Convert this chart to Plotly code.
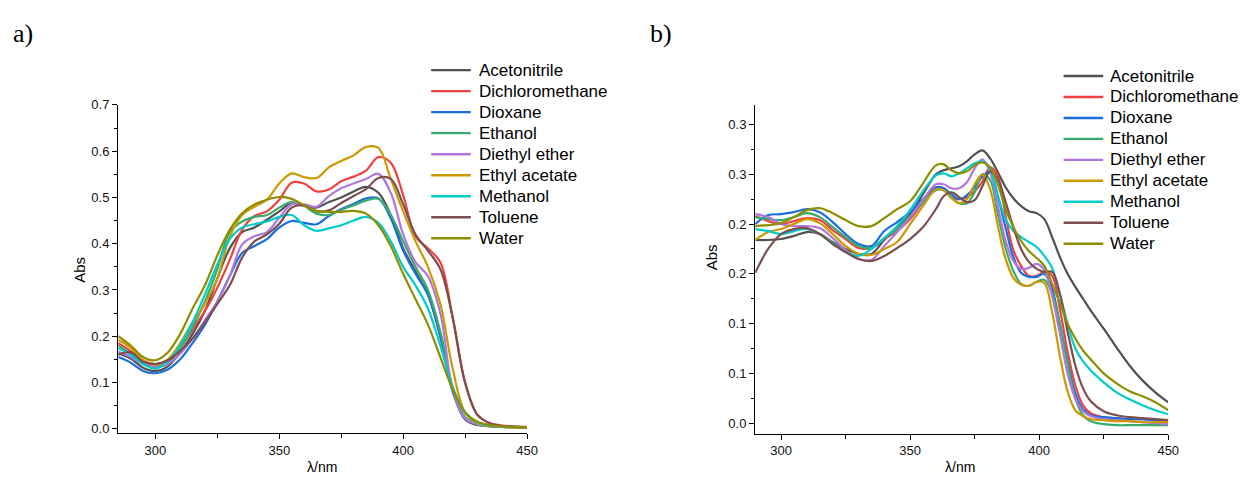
import plotly.graph_objects as go

solvents = ["Acetonitrile", "Dichloromethane", "Dioxane", "Ethanol", "Diethyl ether",
            "Ethyl acetate", "Methanol", "Toluene", "Water"]
colors = ["#515151", "#F14040", "#1A6FDF", "#37AD6B", "#B177DE",
          "#CC9900", "#00CBCC", "#7D4E4E", "#8E8E00"]

# ---------------- panel a ----------------
wl_a = [285, 290, 295, 300, 305, 310, 315, 320, 325, 330, 335, 340, 345, 350, 355, 360, 365,
        370, 375, 380, 385, 390, 395, 400, 405, 410, 415, 420, 425, 430, 435, 440, 445, 450]
a_acetonitrile = [0.163, 0.152, 0.132, 0.125, 0.135, 0.165, 0.205, 0.255, 0.325, 0.39, 0.425, 0.435,
                  0.452, 0.47, 0.488, 0.482, 0.478, 0.49, 0.5, 0.513, 0.523, 0.51, 0.462, 0.39, 0.34,
                  0.29, 0.2, 0.085, 0.02, 0.008, 0.005, 0.004, 0.003, 0.003]
a_dichloromethane = [0.185, 0.168, 0.148, 0.14, 0.148, 0.175, 0.215, 0.255, 0.305, 0.365, 0.43, 0.46,
                     0.47, 0.495, 0.532, 0.53, 0.513, 0.517, 0.535, 0.545, 0.558, 0.587, 0.575, 0.505,
                     0.415, 0.39, 0.36, 0.24, 0.1, 0.03, 0.012, 0.007, 0.005, 0.003]
a_dioxane = [0.155, 0.143, 0.125, 0.12, 0.128, 0.15, 0.185, 0.225, 0.275, 0.33, 0.38, 0.395, 0.41,
             0.435, 0.449, 0.445, 0.442, 0.46, 0.475, 0.486, 0.498, 0.498, 0.455, 0.385, 0.335, 0.29,
             0.2, 0.08, 0.022, 0.01, 0.006, 0.005, 0.004, 0.003]
a_ethanol = [0.18, 0.162, 0.14, 0.133, 0.142, 0.175, 0.22, 0.275, 0.345, 0.425, 0.448, 0.458, 0.462,
             0.478, 0.49, 0.482, 0.465, 0.462, 0.473, 0.483, 0.493, 0.497, 0.462, 0.405, 0.35, 0.3,
             0.21, 0.09, 0.025, 0.01, 0.006, 0.004, 0.003, 0.002]
a_diethyl_ether = [0.167, 0.155, 0.14, 0.135, 0.14, 0.162, 0.195, 0.235, 0.275, 0.33, 0.398, 0.416,
                   0.425, 0.456, 0.485, 0.485, 0.48, 0.503, 0.52, 0.53, 0.54, 0.551, 0.51, 0.42, 0.36,
                   0.33, 0.25, 0.085, 0.022, 0.01, 0.006, 0.005, 0.004, 0.004]
a_ethyl_acetate = [0.192, 0.175, 0.148, 0.138, 0.15, 0.185, 0.23, 0.27, 0.325, 0.415, 0.462, 0.48,
                   0.495, 0.53, 0.552, 0.544, 0.542, 0.565, 0.579, 0.591, 0.609, 0.607, 0.54, 0.47,
                   0.405, 0.35, 0.27, 0.13, 0.035, 0.012, 0.006, 0.004, 0.003, 0.002]
a_methanol = [0.174, 0.16, 0.14, 0.13, 0.145, 0.18, 0.23, 0.29, 0.355, 0.41, 0.435, 0.442, 0.448,
              0.458, 0.462, 0.44, 0.428, 0.433, 0.44, 0.45, 0.458, 0.445, 0.405, 0.35, 0.31, 0.26,
              0.18, 0.09, 0.035, 0.014, 0.007, 0.005, 0.004, 0.003]
a_toluene = [0.16, 0.165, 0.145, 0.14, 0.148, 0.168, 0.195, 0.23, 0.27, 0.31, 0.37, 0.405, 0.42,
             0.443, 0.478, 0.483, 0.47, 0.472, 0.488, 0.503, 0.518, 0.542, 0.54, 0.485, 0.42, 0.385,
             0.345, 0.24, 0.1, 0.03, 0.012, 0.006, 0.004, 0.003]
a_water = [0.2, 0.18, 0.155, 0.148, 0.165, 0.205, 0.26, 0.31, 0.375, 0.43, 0.466, 0.485, 0.495,
           0.501, 0.497, 0.483, 0.471, 0.469, 0.469, 0.471, 0.465, 0.44, 0.395, 0.335, 0.28, 0.225,
           0.155, 0.085, 0.035, 0.015, 0.008, 0.005, 0.004, 0.003]

# ---------------- panel b ----------------
wl_b = [290, 295, 300, 305, 310, 315, 320, 325, 330, 335, 340, 345, 350, 355, 360, 363, 366, 369,
        372, 375, 378, 381, 384, 387, 390, 393, 396, 399, 402, 405, 408, 411, 414, 417, 420, 425,
        430, 435, 440, 445, 450]
b_acetonitrile = [0.184, 0.184, 0.185, 0.188, 0.192, 0.19, 0.182, 0.175, 0.17, 0.17, 0.184, 0.196,
                  0.21, 0.23, 0.25, 0.254, 0.256, 0.258, 0.263, 0.27, 0.274, 0.266, 0.252, 0.237,
                  0.226, 0.218, 0.213, 0.211, 0.205, 0.187, 0.167, 0.15, 0.137, 0.125, 0.113, 0.095,
                  0.076, 0.058, 0.043, 0.031, 0.021]
b_dichloromethane = [0.208, 0.203, 0.2, 0.203, 0.206, 0.204, 0.194, 0.185, 0.176, 0.176, 0.185,
                     0.193, 0.205, 0.222, 0.236, 0.236, 0.227, 0.225, 0.227, 0.233, 0.243, 0.257,
                     0.248, 0.208, 0.174, 0.158, 0.148, 0.148, 0.152, 0.148, 0.115, 0.072, 0.038,
                     0.018, 0.01, 0.006, 0.005, 0.004, 0.004, 0.003, 0.003]
b_dioxane = [0.2, 0.209, 0.21, 0.212, 0.215, 0.212, 0.202, 0.19, 0.18, 0.178, 0.193, 0.202, 0.212,
             0.225, 0.237, 0.236, 0.23, 0.225, 0.229, 0.237, 0.248, 0.252, 0.228, 0.196, 0.167,
             0.151, 0.147, 0.147, 0.15, 0.135, 0.1, 0.062, 0.03, 0.014, 0.008, 0.006, 0.005, 0.004,
             0.004, 0.003, 0.002]
b_ethanol = [0.207, 0.205, 0.204, 0.207, 0.211, 0.207, 0.197, 0.187, 0.178, 0.176, 0.186, 0.195,
             0.208, 0.222, 0.234, 0.234, 0.227, 0.221, 0.221, 0.232, 0.25, 0.244, 0.21, 0.176, 0.153,
             0.14, 0.138, 0.142, 0.144, 0.13, 0.1, 0.06, 0.025, 0.008, 0.002, -0.001, -0.002,
             -0.002, -0.002, -0.002, -0.002]
b_diethyl_ether = [0.21, 0.207, 0.2, 0.198, 0.198, 0.196, 0.186, 0.174, 0.165, 0.164, 0.178, 0.192,
                   0.207, 0.224, 0.24, 0.24, 0.236, 0.236, 0.242, 0.256, 0.265, 0.252, 0.218, 0.183,
                   0.163, 0.155, 0.156, 0.16, 0.154, 0.128, 0.09, 0.05, 0.025, 0.012, 0.007, 0.004,
                   0.003, 0.002, 0.001, 0.0, -0.001]
b_ethyl_acetate = [0.184, 0.192, 0.195, 0.2, 0.205, 0.201, 0.19, 0.178, 0.17, 0.169, 0.175, 0.182,
                   0.2, 0.218, 0.235, 0.234, 0.226, 0.221, 0.225, 0.24, 0.25, 0.235, 0.198, 0.165,
                   0.146, 0.139, 0.138, 0.142, 0.141, 0.112, 0.068, 0.032, 0.013, 0.007, 0.004, 0.003,
                   0.002, 0.002, 0.001, 0.001, 0.001]
b_methanol = [0.195, 0.193, 0.19, 0.193, 0.195, 0.19, 0.181, 0.172, 0.168, 0.175, 0.186, 0.198,
              0.214, 0.233, 0.249, 0.251, 0.248, 0.251, 0.256, 0.261, 0.263, 0.255, 0.228, 0.205,
              0.193, 0.187, 0.182, 0.177, 0.168, 0.156, 0.13, 0.1, 0.075, 0.062, 0.053, 0.041, 0.031,
              0.024, 0.018, 0.013, 0.009]
b_toluene = [0.151, 0.175, 0.19, 0.195, 0.196, 0.19, 0.18, 0.172, 0.165, 0.163, 0.168, 0.176, 0.185,
             0.197, 0.215, 0.228, 0.232, 0.227, 0.222, 0.224, 0.238, 0.253, 0.245, 0.222, 0.197,
             0.175, 0.162, 0.155, 0.152, 0.152, 0.13, 0.092, 0.058, 0.035, 0.022, 0.012, 0.008,
             0.006, 0.005, 0.004, 0.003]
b_water = [0.198, 0.199, 0.201, 0.207, 0.214, 0.216, 0.211, 0.204, 0.198, 0.198, 0.206, 0.215, 0.223,
           0.241, 0.259, 0.26, 0.254, 0.251, 0.253, 0.259, 0.262, 0.257, 0.24, 0.215, 0.197, 0.183,
           0.173, 0.166, 0.158, 0.14, 0.121, 0.1, 0.085, 0.073, 0.064, 0.05, 0.04, 0.032, 0.027,
           0.021, 0.013]

series_a = [a_acetonitrile, a_dichloromethane, a_dioxane, a_ethanol, a_diethyl_ether,
            a_ethyl_acetate, a_methanol, a_toluene, a_water]
series_b = [b_acetonitrile, b_dichloromethane, b_dioxane, b_ethanol, b_diethyl_ether,
            b_ethyl_acetate, b_methanol, b_toluene, b_water]

fig = go.Figure()
for name, col, ys in zip(solvents, colors, series_a):
    fig.add_trace(go.Scatter(x=wl_a, y=ys, name=name, mode="lines", showlegend=False,
                             line=dict(color=col, width=2.2, shape="spline", smoothing=1),
                             xaxis="x", yaxis="y"))
for name, col, ys in zip(solvents, colors, series_b):
    fig.add_trace(go.Scatter(x=wl_b, y=ys, name=name, mode="lines", showlegend=False,
                             line=dict(color=col, width=2.2, shape="spline", smoothing=1),
                             xaxis="x2", yaxis="y2"))

W, H = 1252, 481
def px(x):
    return x / W
def py(y):
    return (H - y) / H

axis_common = dict(showline=True, linecolor="black", linewidth=1.4, showgrid=False, zeroline=False,
                   ticks="outside", tickcolor="black", tickwidth=1.2, ticklen=5,
                   tickfont=dict(size=13, color="#111111"))

fig.update_layout(
    width=W, height=H, margin=dict(l=0, r=0, t=0, b=0),
    paper_bgcolor="white", plot_bgcolor="white", showlegend=False,
    font=dict(family="Liberation Sans, Arial, sans-serif", color="black"),
    xaxis=dict(domain=[px(119.3), px(531.7)], range=[285, 450], tick0=300, dtick=50, anchor="y",
               minor=dict(dtick=25, tick0=300, ticks="outside", ticklen=4, tickcolor="black"),
               **axis_common),
    yaxis=dict(domain=[1 - 435 / H, 1 - 100 / H], range=[-0.0091, 0.70], tick0=0, dtick=0.1,
               tickformat=".1f", anchor="x",
               minor=dict(dtick=0.05, tick0=0, ticks="outside", ticklen=3, tickcolor="black"),
               **axis_common),
    xaxis2=dict(domain=[px(761.9), px(1178.6)], range=[290, 450], tick0=300, dtick=50, anchor="y2",
                minor=dict(dtick=25, tick0=300, ticks="outside", ticklen=4, tickcolor="black"),
                **axis_common),
    yaxis2=dict(domain=[1 - 435.7 / H, 1 - 100 / H], range=[-0.0105, 0.3197], anchor="x2",
                tickmode="array", tickvals=[0, 0.05, 0.10, 0.15, 0.20, 0.25, 0.30],
                ticktext=["0.0", "0.1", "0.1", "0.2", "0.2", "0.3", "0.3"],
                minor=dict(dtick=0.025, tick0=0, ticks="outside", ticklen=3, tickcolor="black"),
                **axis_common),
)

# legends (one per panel), drawn as swatch lines + real text
legend_specs = [
    dict(x0=435, x1=475, xt=481, y0=64.5, dy=21.45),
    dict(x0=1073, x1=1113, xt=1118, y0=70.5, dy=21.4),
]
for spec in legend_specs:
    for i, (name, col) in enumerate(zip(solvents, colors)):
        yy = spec["y0"] + i * spec["dy"]
        fig.add_shape(type="line", xref="paper", yref="paper",
                      x0=px(spec["x0"]), x1=px(spec["x1"]), y0=py(yy), y1=py(yy),
                      line=dict(color=col, width=2.4))
        fig.add_annotation(xref="paper", yref="paper", showarrow=False, text=name,
                           x=px(spec["xt"]), y=py(yy), xanchor="left", yanchor="middle",
                           font=dict(size=17, color="black"))

ann = [
    dict(text="a)", x=px(11), y=py(27), xanchor="left", yanchor="middle",
         font=dict(family="Liberation Serif, Times New Roman, serif", size=26, color="black")),
    dict(text="b)", x=px(654), y=py(27), xanchor="left", yanchor="middle",
         font=dict(family="Liberation Serif, Times New Roman, serif", size=26, color="black")),
    dict(text="Abs", x=px(80), y=py(268), textangle=-90, xanchor="center", yanchor="middle",
         font=dict(size=15, color="black")),
    dict(text="Abs", x=px(718), y=py(256), textangle=-90, xanchor="center", yanchor="middle",
         font=dict(size=15, color="black")),
    dict(text="λ/nm", x=px(325), y=py(480), xanchor="center", yanchor="bottom",
         font=dict(size=14, color="black")),
    dict(text="λ/nm", x=px(969), y=py(480), xanchor="center", yanchor="bottom",
         font=dict(size=14, color="black")),
]
for a in ann:
    fig.add_annotation(xref="paper", yref="paper", showarrow=False, **a)

fig.write_html("out.html", config={"displayModeBar": False},
               post_script="document.body.style.margin='0px';")
